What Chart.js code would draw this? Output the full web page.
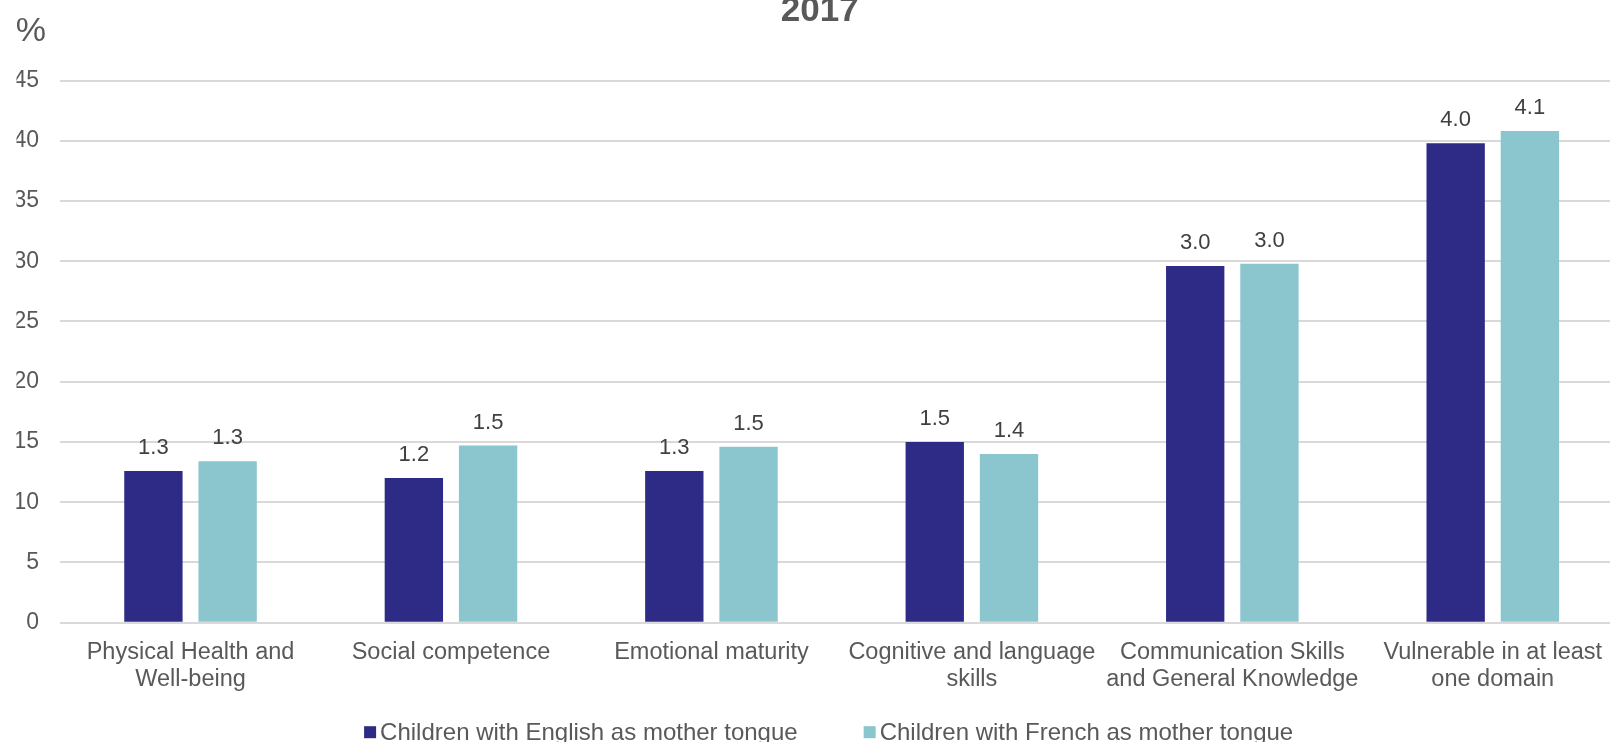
<!DOCTYPE html>
<html>
<head>
<meta charset="utf-8">
<title>Vulnerability by domain, 2017</title>
<script src="https://cdn.jsdelivr.net/npm/chart.js@4/dist/chart.umd.min.js"></script>
<style>
  html, body { margin: 0; padding: 0; background: #ffffff; overflow: hidden; width: 1610px; height: 742px; }
  #wrap { position: absolute; left: 0; top: -10px; width: 1623px; height: 760px; }
</style>
</head>
<body>
<div id="wrap"><canvas id="chart"></canvas></div>
<script>
// Domains shown along the x axis (multi-line labels as arrays)
const categories = [
  ['Physical Health and', 'Well-being'],
  'Social competence',
  'Emotional maturity',
  ['Cognitive and language', 'skills'],
  ['Communication Skills', 'and General Knowledge'],
  ['Vulnerable in at least', 'one domain']
];

const seriesNames = [
  'Children with English as mother tongue',
  'Children with French as mother tongue'
];

// Share of vulnerable children (%)
const englishValues = [12.6, 12.0, 12.6, 15.0, 29.6, 39.8];
const frenchValues  = [13.4, 14.7, 14.6, 14.0, 29.8, 40.8];

const yTicks = [0, 5, 10, 15, 20, 25, 30, 35, 40, 45];

const titleText = '2017';
const unitText = '%';

const FONT = '"Liberation Sans", Arial, Helvetica, sans-serif';
const TEXT_GREY = '#595959';
const LABEL_GREY = '#404040';
const NAVY = '#2D2B85';
const TEAL = '#8BC6CE';
const GRID = '#D9D9D9';

// The value labels above the bars are printed on a tenths scale
const labelText = v => (v / 10).toFixed(1);

const valueLabels = {
  id: 'valueLabels',
  afterDatasetsDraw(chart) {
    const ctx = chart.ctx;
    ctx.save();
    ctx.font = '22px ' + FONT;
    ctx.fillStyle = LABEL_GREY;
    ctx.textAlign = 'center';
    ctx.textBaseline = 'alphabetic';
    chart.data.datasets.forEach((ds, i) => {
      chart.getDatasetMeta(i).data.forEach((bar, j) => {
        ctx.fillText(labelText(ds.data[j]), bar.x, bar.y - 17);
      });
    });
    ctx.restore();
  }
};

// "%" unit marker above the value axis
const unitLabel = {
  id: 'unitLabel',
  afterDraw(chart) {
    const ctx = chart.ctx;
    const area = chart.chartArea;
    ctx.save();
    ctx.font = '34px ' + FONT;
    ctx.fillStyle = TEXT_GREY;
    ctx.textAlign = 'left';
    ctx.textBaseline = 'alphabetic';
    ctx.fillText(unitText, area.left - 44.6, area.top - 40);
    ctx.restore();
  }
};

// Series key in one row under the category labels: small square, then the name
const legendRow = {
  id: 'legendRow',
  afterDraw(chart) {
    const ctx = chart.ctx;
    const area = chart.chartArea;
    const box = 12, gap = 4, spacing = 66;
    ctx.save();
    ctx.font = '24px ' + FONT;
    ctx.textAlign = 'left';
    ctx.textBaseline = 'alphabetic';
    const items = chart.data.datasets.map(ds => ({
      color: ds.backgroundColor,
      text: ds.label,
      width: box + gap + ctx.measureText(ds.label).width
    }));
    const total = items.reduce((s, it) => s + it.width, 0) + spacing * (items.length - 1);
    const center = (area.left + area.right) / 2 - 13;
    const baseline = area.bottom + 117;
    let x = center - total / 2;
    items.forEach(it => {
      ctx.fillStyle = it.color;
      ctx.fillRect(x, baseline - 13.5, box, box);
      ctx.fillStyle = TEXT_GREY;
      ctx.fillText(it.text, x + box + gap, baseline);
      x += it.width + spacing;
    });
    ctx.restore();
  }
};

Chart.defaults.font.family = FONT;
Chart.defaults.color = TEXT_GREY;

new Chart(document.getElementById('chart'), {
  type: 'bar',
  data: {
    labels: categories,
    datasets: [
      {
        label: seriesNames[0],
        data: englishValues,
        backgroundColor: NAVY,
        borderWidth: 0,
        categoryPercentage: 0.57,
        barPercentage: 0.786
      },
      {
        label: seriesNames[1],
        data: frenchValues,
        backgroundColor: TEAL,
        borderWidth: 0,
        categoryPercentage: 0.57,
        barPercentage: 0.786
      }
    ]
  },
  options: {
    responsive: true,
    maintainAspectRatio: false,
    animation: false,
    layout: { padding: { left: 16.5, right: 0, top: 0, bottom: 52.3 } },
    plugins: {
      title: {
        display: true,
        text: titleText,
        color: TEXT_GREY,
        font: { size: 35, weight: 'bold', family: FONT },
        padding: { top: 0, bottom: 48.5 }
      },
      legend: { display: false },
      tooltip: { enabled: false }
    },
    scales: {
      x: {
        grid: { display: false, drawTicks: false },
        border: { display: false },
        ticks: {
          color: TEXT_GREY,
          font: { size: 23.5, family: FONT, lineHeight: 1.15 },
          padding: 16.5,
          maxRotation: 0,
          autoSkip: false
        },
        afterFit(scale) { scale.height = 75; }
      },
      y: {
        min: yTicks[0],
        max: yTicks[yTicks.length - 1],
        afterBuildTicks(scale) { scale.ticks = yTicks.map(v => ({ value: v })); },
        grid: { color: GRID, lineWidth: 2, drawTicks: false },
        border: { display: false },
        ticks: {
          color: TEXT_GREY,
          font: { size: 23, family: FONT },
          padding: 21.3
        },
        afterFit(scale) { scale.width = 43.8; }
      }
    }
  },
  plugins: [valueLabels, unitLabel, legendRow]
});
</script>
</body>
</html>
